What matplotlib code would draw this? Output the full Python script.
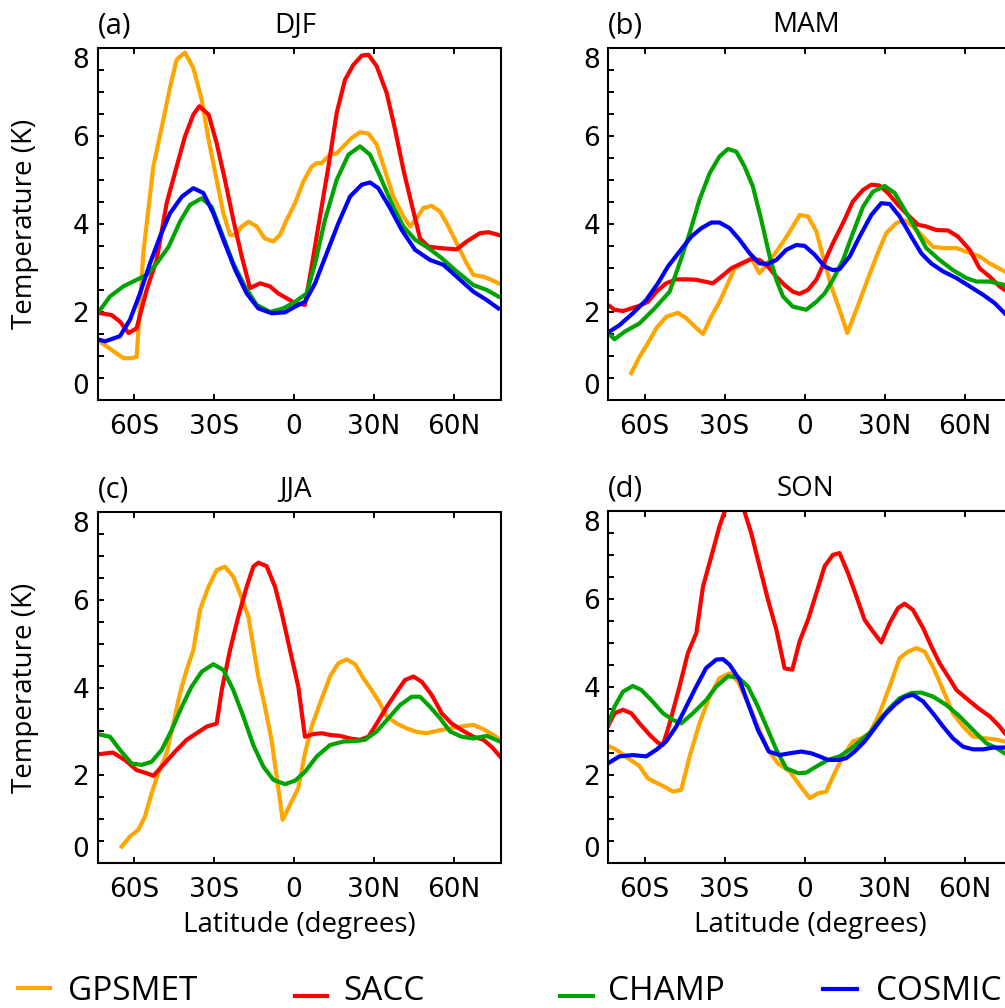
import matplotlib
matplotlib.use("Agg")
import matplotlib.pyplot as plt
from matplotlib.lines import Line2D
from matplotlib.ticker import MultipleLocator

# ---------------- data (latitude, temperature K) ----------------
series_names = ["GPSMET", "SACC", "CHAMP", "COSMIC"]
series_colors = ["#FFA500", "#FF0000", "#00A400", "#0000FF"]

djf_gpsmet = [(-73.6, 1.36), (-64, 0.95), (-61, 0.95), (-59, 0.98), (-56.5, 3.33), (-52.75, 5.3), (-49, 6.36),
              (-46.5, 7.1), (-44, 7.73), (-40.9, 7.89), (-37.75, 7.54), (-34.6, 6.82), (-32, 5.9), (-29, 5.0),
              (-26.5, 4.24), (-24, 3.75), (-22, 3.75), (-19.6, 3.94), (-17, 4.05), (-14, 3.94), (-11, 3.67),
              (-7.75, 3.6), (-5.25, 3.75), (-2.75, 4.09), (0.4, 4.47), (3.5, 4.96), (6.6, 5.3), (8.5, 5.38),
              (10.4, 5.38), (13.5, 5.57), (16, 5.6), (18.5, 5.76), (21.6, 5.95), (24.75, 6.08), (27.9, 6.05),
              (31, 5.8), (34, 5.23), (37.25, 4.62), (41, 4.17), (43.5, 3.94), (46, 4.13), (48.5, 4.36),
              (51.6, 4.41), (54.75, 4.28), (57.9, 3.94), (61, 3.56), (64.75, 3.1), (67.25, 2.84), (71, 2.8),
              (74, 2.73), (76.6, 2.65)]
djf_sacc = [(-73.6, 1.98), (-68.4, 1.93), (-65.25, 1.78), (-62, 1.52), (-59, 1.63), (-55.25, 2.5), (-51.5, 3.18),
            (-47.75, 4.47), (-44, 5.3), (-40.9, 5.98), (-37.75, 6.48), (-35.5, 6.67), (-32, 6.48), (-29, 5.83),
            (-25.9, 5.0), (-22.75, 4.09), (-19.6, 3.26), (-16.5, 2.54), (-12.75, 2.65), (-9, 2.58), (-5.9, 2.42),
            (-2.75, 2.31), (0.4, 2.2), (4.1, 2.16), (6.6, 3.03), (9.75, 4.17), (12.9, 5.3), (16, 6.52),
            (19.1, 7.27), (22.25, 7.61), (25.4, 7.82), (27.9, 7.84), (31, 7.58), (34.75, 6.97), (37.9, 6.14),
            (41, 5.23), (44, 4.47), (47.25, 3.67), (50.4, 3.48), (54.75, 3.45), (61, 3.42), (64.75, 3.6),
            (69.75, 3.79), (72.9, 3.81), (76.6, 3.75)]
djf_champ = [(-73.6, 1.97), (-69, 2.35), (-64, 2.58), (-59, 2.73), (-55.25, 2.84), (-51.5, 3.1), (-47, 3.48),
             (-42.75, 4.05), (-39, 4.43), (-34.6, 4.58), (-30.9, 4.39), (-27.1, 3.79), (-22.75, 3.1),
             (-18.4, 2.58), (-14, 2.16), (-9, 2.0), (-4, 2.08), (0.4, 2.23), (4.75, 2.42), (7.9, 3.1),
             (11.6, 4.09), (16, 5.0), (20.4, 5.57), (24.75, 5.76), (28.5, 5.57), (32.25, 5.08), (36.6, 4.47),
             (41, 3.94), (45.4, 3.64), (50.4, 3.45), (55.4, 3.22), (60.4, 2.95), (67.25, 2.61), (72.25, 2.5),
             (76.6, 2.35)]
djf_cosmic = [(-73.6, 1.38), (-70.9, 1.33), (-65.25, 1.45), (-61.5, 1.82), (-57.75, 2.42), (-54, 3.1),
              (-50.25, 3.71), (-46.5, 4.24), (-42, 4.62), (-37.75, 4.81), (-34, 4.7), (-30.25, 4.24),
              (-26.5, 3.64), (-22, 2.95), (-17.75, 2.42), (-13.4, 2.08), (-8.4, 1.97), (-3.4, 1.99), (0.4, 2.12),
              (4.1, 2.23), (7.9, 2.65), (12.25, 3.33), (16.6, 4.01), (21, 4.62), (25.4, 4.89), (28.5, 4.94),
              (31.6, 4.81), (36, 4.36), (40.4, 3.86), (45.4, 3.41), (51, 3.18), (56, 3.07), (61, 2.8),
              (67.25, 2.46), (72.25, 2.27), (76.6, 2.08)]

mam_gpsmet = [(-65, 0.61), (-61.9, 0.98), (-58.75, 1.29), (-55.6, 1.63), (-51.9, 1.89), (-47.5, 1.98),
              (-44.4, 1.86), (-41.25, 1.67), (-38.1, 1.5), (-35, 1.89), (-31.9, 2.23), (-28.75, 2.65),
              (-26.25, 2.99), (-23.1, 3.1), (-20, 3.22), (-16.9, 2.88), (-14.4, 3.07), (-10.6, 3.37), (-7.5, 3.64),
              (-4.4, 3.94), (-1.9, 4.2), (1.25, 4.17), (4.4, 3.83), (6.9, 3.26), (10, 2.58), (13.1, 2.05),
              (16, 1.52), (19.4, 2.05), (23.1, 2.65), (26.9, 3.26), (30.6, 3.79), (34.4, 4.02), (37.5, 4.08),
              (40.6, 3.94), (44.4, 3.71), (48.1, 3.48), (51.9, 3.45), (56.9, 3.45), (60.6, 3.37), (65.6, 3.26),
              (69.4, 3.1), (75, 2.92)]
mam_sacc = [(-73.75, 2.16), (-71.25, 2.05), (-68.1, 2.02), (-65, 2.08), (-61.9, 2.14), (-58.75, 2.23),
            (-55.6, 2.46), (-51.9, 2.65), (-48.1, 2.74), (-44.4, 2.74), (-40.6, 2.73), (-37.5, 2.69),
            (-34.4, 2.65), (-31.25, 2.8), (-27.5, 2.99), (-23.75, 3.1), (-20, 3.2), (-16.9, 3.18), (-13.75, 3.03),
            (-10.6, 2.8), (-7.5, 2.61), (-4.4, 2.46), (-1.9, 2.41), (1.25, 2.5), (4.4, 2.73), (7.5, 3.14),
            (10.6, 3.56), (14.4, 4.02), (18.1, 4.51), (21.9, 4.77), (25, 4.89), (28.1, 4.87), (31.25, 4.7),
            (35, 4.43), (38.75, 4.2), (42.5, 3.98), (45.6, 3.94), (49.4, 3.86), (53.75, 3.85), (57.5, 3.71),
            (61.9, 3.41), (65.6, 2.99), (69.4, 2.8), (73.1, 2.58), (75, 2.5)]
mam_champ = [(-73.75, 1.52), (-71.25, 1.38), (-67.5, 1.55), (-61.9, 1.74), (-56.25, 2.08), (-50.6, 2.46),
             (-46.9, 3.1), (-43.1, 3.79), (-39.4, 4.55), (-35.6, 5.15), (-31.9, 5.53), (-28.75, 5.7),
             (-25.6, 5.64), (-22.5, 5.3), (-19.4, 4.85), (-16.25, 4.09), (-13.1, 3.26), (-10.6, 2.73),
             (-8.1, 2.35), (-4.4, 2.12), (0.6, 2.05), (4.4, 2.23), (7.5, 2.42), (10.6, 2.73), (14.4, 3.18),
             (18.1, 3.79), (21.9, 4.39), (25.6, 4.73), (30, 4.86), (33.75, 4.7), (37.5, 4.32), (41.9, 3.86),
             (45.6, 3.45), (50.6, 3.18), (55.6, 2.95), (60.6, 2.77), (64.4, 2.69), (69.4, 2.69), (75, 2.61)]
mam_cosmic = [(-73.75, 1.53), (-69.4, 1.7), (-64.4, 1.97), (-59.4, 2.27), (-55, 2.65), (-51.25, 3.03),
              (-46.9, 3.37), (-42.5, 3.71), (-38.75, 3.9), (-35, 4.03), (-31.9, 4.03), (-28.1, 3.9),
              (-24.4, 3.64), (-20.6, 3.33), (-16.9, 3.1), (-13.75, 3.09), (-10.6, 3.18), (-6.9, 3.41),
              (-3.1, 3.52), (0, 3.5), (3.75, 3.3), (7.5, 3.03), (10.6, 2.95), (13.1, 2.97), (16.9, 3.26),
              (20.6, 3.71), (25, 4.2), (28.75, 4.47), (31.9, 4.45), (35.6, 4.17), (40, 3.71), (43.75, 3.33),
              (47.5, 3.1), (51.9, 2.92), (56.9, 2.77), (61.9, 2.58), (66.9, 2.39), (71.25, 2.2), (75, 1.97)]

jja_gpsmet = [(-64.6, 0.38), (-61.5, 0.61), (-58.4, 0.76), (-55.9, 1.06), (-53.4, 1.59), (-50.9, 2.05),
              (-47.75, 2.5), (-45.25, 3.18), (-42.75, 3.87), (-40.25, 4.4), (-37.75, 4.85), (-35.25, 5.76),
              (-32.1, 6.29), (-29, 6.67), (-25.9, 6.75), (-22.75, 6.52), (-20.25, 6.14), (-17.1, 5.61),
              (-15.25, 4.93), (-13.4, 4.25), (-10.9, 3.56), (-8.4, 2.8), (-6.5, 1.97), (-4.25, 0.99),
              (-1.5, 1.33), (1.6, 1.71), (4.1, 2.5), (6.6, 3.11), (9.75, 3.64), (13.5, 4.25), (16.6, 4.55),
              (19.75, 4.64), (22.9, 4.53), (26, 4.21), (29.1, 3.94), (32.25, 3.64), (34.75, 3.34), (38.5, 3.18),
              (42.25, 3.07), (46, 2.99), (49.75, 2.96), (54.1, 3.02), (58.5, 3.07), (62.25, 3.11), (67.25, 3.15),
              (71, 3.05), (74.75, 2.92), (77.25, 2.81)]
jja_sacc = [(-73.6, 2.48), (-67.9, 2.52), (-63.4, 2.35), (-59, 2.12), (-55.25, 2.05), (-52.75, 1.99), (-49, 2.24),
            (-44.6, 2.54), (-40.25, 2.81), (-36.5, 2.96), (-32.75, 3.11), (-29, 3.18), (-27.1, 3.94), (-24, 4.85),
            (-20.9, 5.61), (-17.75, 6.29), (-15.25, 6.75), (-13.4, 6.84), (-10.25, 6.76), (-7.1, 6.29),
            (-4.6, 5.69), (-1.5, 4.85), (1.6, 4.02), (4.1, 2.88), (7.25, 2.94), (10.4, 2.96), (13.5, 2.92),
            (17.25, 2.9), (21, 2.84), (24.75, 2.81), (27.9, 2.88), (31, 3.18), (34.75, 3.56), (38.5, 3.9),
            (41.6, 4.17), (44.75, 4.25), (47.9, 4.13), (51.6, 3.83), (55.4, 3.41), (59.1, 3.18), (62.9, 3.03),
            (67.25, 2.88), (71, 2.81), (74.1, 2.65), (77.25, 2.43)]
jja_champ = [(-73.6, 2.94), (-69, 2.88), (-65.25, 2.58), (-60.9, 2.27), (-57.1, 2.24), (-53.4, 2.31),
             (-49.6, 2.58), (-45.9, 3.03), (-42.1, 3.56), (-38.4, 4.02), (-34.6, 4.36), (-30.25, 4.53),
             (-26.5, 4.4), (-22.75, 3.94), (-19, 3.34), (-15.25, 2.69), (-11.5, 2.2), (-7.75, 1.9), (-3.4, 1.8),
             (0.4, 1.88), (4.1, 2.08), (8.5, 2.43), (13.5, 2.69), (18.5, 2.77), (22.9, 2.78), (26.6, 2.81),
             (31, 3.0), (35.4, 3.3), (39.75, 3.6), (44.1, 3.79), (47.25, 3.79), (51, 3.56), (54.75, 3.3),
             (58.5, 3.0), (62.9, 2.88), (67.25, 2.84), (72.25, 2.9), (77.25, 2.77)]
jja_cosmic = []

son_gpsmet = [(-73.75, 2.67), (-70.6, 2.58), (-66.25, 2.39), (-61.9, 2.21), (-58.75, 1.93), (-55.6, 1.83),
              (-52.5, 1.74), (-49.4, 1.63), (-46.25, 1.67), (-43.1, 2.43), (-39.4, 3.18), (-35.6, 3.79),
              (-31.9, 4.21), (-28.1, 4.32), (-25, 4.13), (-21.25, 3.64), (-17.5, 3.11), (-13.75, 2.58),
              (-10, 2.27), (-5.6, 2.09), (-1.9, 1.78), (1.9, 1.48), (5, 1.59), (8.1, 1.63), (11.25, 2.05),
              (15, 2.5), (18.1, 2.77), (21.25, 2.84), (24.4, 2.96), (28.1, 3.41), (31.9, 4.02), (35.6, 4.66),
              (38.75, 4.81), (41.9, 4.89), (45, 4.81), (48.1, 4.47), (51.9, 3.94), (55.6, 3.41), (59.4, 3.11),
              (63.1, 2.88), (68.1, 2.84), (71.9, 2.81), (75, 2.77)]
son_sacc = [(-73.75, 3.11), (-71.25, 3.41), (-68.1, 3.49), (-65, 3.41), (-61.9, 3.18), (-58.1, 2.92), (-55, 2.74),
            (-53.1, 2.69), (-50.6, 3.18), (-46.9, 4.02), (-43.75, 4.78), (-40.6, 5.23), (-38.1, 6.29),
            (-35, 6.97), (-31.9, 7.66), (-29.4, 8.1), (-26.5, 8.5), (-23.1, 8.1), (-20, 7.5), (-16.9, 6.75),
            (-13.75, 5.99), (-10.6, 5.31), (-7.5, 4.43), (-4.6, 4.4), (-1.9, 5.04), (1.25, 5.53), (4.4, 6.14),
            (7.5, 6.75), (10.6, 7.01), (13.1, 7.05), (16.25, 6.6), (19.4, 6.07), (22.5, 5.53), (25.6, 5.27),
            (28.75, 5.02), (31.9, 5.46), (35, 5.8), (37.5, 5.9), (40.6, 5.76), (44.4, 5.35), (47.5, 4.93),
            (50.6, 4.55), (53.75, 4.25), (56.9, 3.94), (60.6, 3.75), (65, 3.53), (69.4, 3.34), (73.1, 3.11),
            (75, 2.96)]
son_champ = [(-73.75, 3.15), (-71.25, 3.56), (-68.1, 3.9), (-64.4, 4.03), (-61.25, 3.94), (-57.5, 3.71),
             (-53.1, 3.41), (-49.4, 3.26), (-46.25, 3.18), (-41.9, 3.41), (-36.9, 3.71), (-33.1, 4.02),
             (-28.75, 4.25), (-25, 4.23), (-21.25, 4.02), (-17.5, 3.56), (-13.75, 3.03), (-10.6, 2.58),
             (-6.9, 2.16), (-2.5, 2.05), (0.6, 2.06), (4.4, 2.2), (8.75, 2.35), (13.1, 2.43), (16.9, 2.58),
             (20.6, 2.77), (24.4, 2.96), (28.1, 3.26), (31.9, 3.53), (35.6, 3.75), (40, 3.87), (43.75, 3.88),
             (48.1, 3.79), (53.1, 3.6), (58.1, 3.34), (63.1, 3.03), (68.1, 2.73), (71.9, 2.62), (75, 2.5)]
son_cosmic = [(-73.75, 2.27), (-69.4, 2.43), (-64.4, 2.46), (-59.4, 2.43), (-55.6, 2.58), (-51.9, 2.77),
              (-48.1, 3.11), (-44.4, 3.56), (-40.6, 4.02), (-36.9, 4.44), (-33.1, 4.63), (-30.6, 4.64),
              (-28.1, 4.51), (-24.4, 4.17), (-21.25, 3.64), (-17.5, 3.03), (-13.4, 2.54), (-9.4, 2.46),
              (-5.6, 2.5), (-1.25, 2.54), (2.5, 2.5), (5.6, 2.43), (8.75, 2.35), (13.1, 2.35), (15.6, 2.39),
              (18.75, 2.54), (22.5, 2.77), (26.25, 3.07), (30, 3.37), (33.75, 3.6), (37.5, 3.78), (40.6, 3.83),
              (44.4, 3.68), (48.1, 3.41), (51.9, 3.11), (55.6, 2.84), (59.4, 2.65), (63.1, 2.59), (66.9, 2.59),
              (70.6, 2.63), (75, 2.63)]

panel_tags = ["(a)", "(b)", "(c)", "(d)"]
panel_seasons = ["DJF", "MAM", "JJA", "SON"]
panel_data = [
    [djf_gpsmet, djf_sacc, djf_champ, djf_cosmic],
    [mam_gpsmet, mam_sacc, mam_champ, mam_cosmic],
    [jja_gpsmet, jja_sacc, jja_champ, jja_cosmic],
    [son_gpsmet, son_sacc, son_champ, son_cosmic],
]
x_ticks = [-60, -30, 0, 30, 60]
x_ticklabels = ["60S", "30S", "0", "30N", "60N"]
y_ticks = [0, 2, 4, 6, 8]

# ---------------- layout ----------------
W, H = 1005, 1008
fig = plt.figure(figsize=(W / 100, H / 100), dpi=100)
plt.rcParams["font.family"] = ["DejaVu Sans"]
LAB_FONT = ["Open Sans", "DejaVu Sans"]


def rect(left, top, right, bottom):
    return [left / W, 1 - bottom / H, (right - left) / W, (bottom - top) / H]


rects = [rect(97.7, 47.7, 501, 400), rect(608.3, 47.7, 1011.6, 400),
         rect(97.7, 511.7, 501, 863.3), rect(608.3, 511.3, 1011.6, 863.3)]

for i in range(4):
    ax = fig.add_axes(rects[i])
    for data, color in zip(panel_data[i], series_colors):
        if not data:
            continue
        lat = [p[0] for p in data]
        val = [p[1] for p in data]
        ax.plot(lat, val, color=color, lw=3.0, solid_joinstyle="round")
    ax.set_xlim(-73.6, 77.6)
    ax.set_ylim(0, 8)
    ax.set_xticks(x_ticks)
    ax.set_xticklabels(x_ticklabels)
    ax.set_yticks(y_ticks)
    ax.yaxis.set_minor_locator(MultipleLocator(0.5))
    ax.tick_params(which="both", direction="in", top=True, right=False, width=1.4,
                   length=4.5, labelsize=19, colors="black")
    ax.tick_params(axis="x", pad=10)
    ax.tick_params(axis="y", pad=6)
    ax.tick_params(axis="x", which="minor", top=False, bottom=False)
    for s in ax.spines.values():
        s.set_linewidth(1.5)
    yt = ax.yaxis.get_major_ticks()
    yt[0].label1.set_va("bottom")
    yt[-1].label1.set_va("top")
    ax.text(0.0, 1.062, panel_tags[i], transform=ax.transAxes, ha="left", va="center",
            fontsize=21, family=LAB_FONT)
    ax.text(0.49, 1.064, panel_seasons[i], transform=ax.transAxes, ha="center", va="center",
            fontsize=20, family=LAB_FONT)
    if i % 2 == 0:
        ax.set_ylabel("Temperature (K)", fontsize=20, family=LAB_FONT)
        ax.yaxis.set_label_coords(-(97.7 - 25) / 403.3, 0.5)
        ax.yaxis.label.set_va("center")
    if i >= 2:
        ax.set_xlabel("Latitude (degrees)", fontsize=20, family=LAB_FONT)
        ax.xaxis.set_label_coords(0.5, -(925 - 863.3) / 351.6)
        ax.xaxis.label.set_va("center")

# ---------------- legend ----------------
leg_line_x = [(18, 50), (295, 327), (560, 593), (823, 857)]
leg_line_y = [988, 996, 996, 989]
leg_text_x = [68, 343, 608, 876]
for name, color, (x0, x1), ly, tx in zip(series_names, series_colors, leg_line_x, leg_line_y, leg_text_x):
    fig.add_artist(Line2D([x0 / W, x1 / W], [1 - ly / H, 1 - ly / H], transform=fig.transFigure,
                          color=color, lw=3.0))
    fig.text(tx / W, 1 - 991 / H, name, ha="left", va="center", fontsize=24, family=LAB_FONT)

fig.savefig("out.png", dpi=100)
